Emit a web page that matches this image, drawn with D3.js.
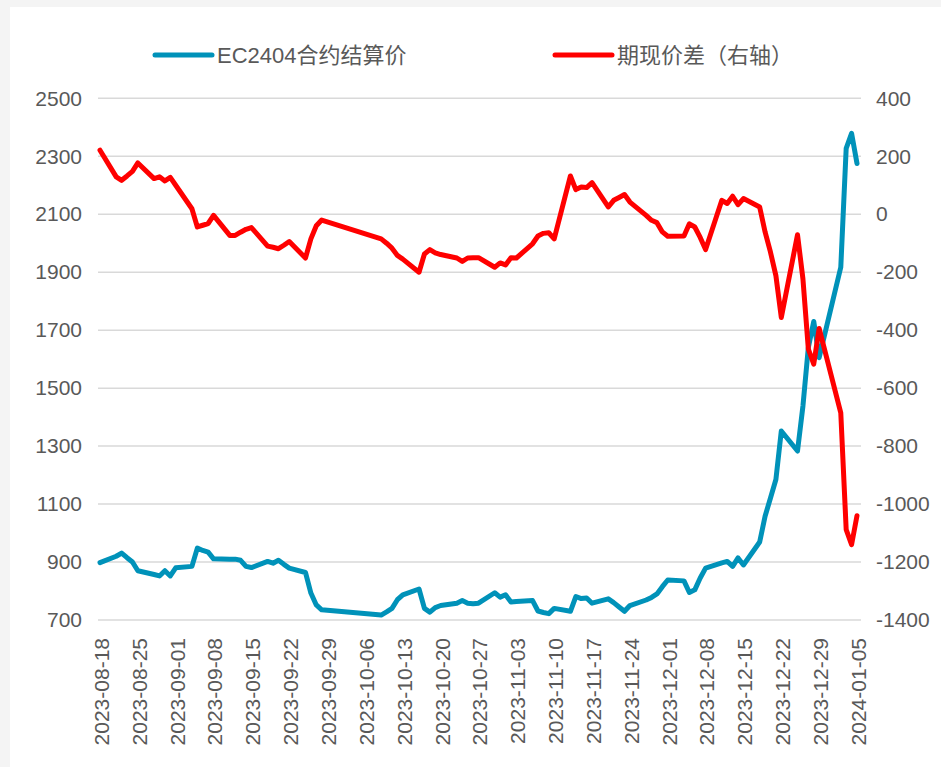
<!DOCTYPE html>
<html>
<head>
<meta charset="utf-8">
<script src="https://cdn.jsdelivr.net/npm/d3@7"></script>
<style>
  body { margin: 0; background: #f4f4f4; }
  svg { display: block; }
  text { font-family: "Liberation Sans", "Noto Sans CJK SC", sans-serif; fill: #595959; }
</style>
</head>
<body>
<div class="chart"></div>
<script>
// trading days
var dates = [
  "2023-08-18",
  "2023-08-21", "2023-08-22", "2023-08-23", "2023-08-24", "2023-08-25",
  "2023-08-28", "2023-08-29", "2023-08-30", "2023-08-31", "2023-09-01",
  "2023-09-04", "2023-09-05", "2023-09-06", "2023-09-07", "2023-09-08",
  "2023-09-11", "2023-09-12", "2023-09-13", "2023-09-14", "2023-09-15",
  "2023-09-18", "2023-09-19", "2023-09-20", "2023-09-21", "2023-09-22",
  "2023-09-25", "2023-09-26", "2023-09-27", "2023-09-28",
  "2023-10-09", "2023-10-10", "2023-10-11", "2023-10-12", "2023-10-13",
  "2023-10-16", "2023-10-17", "2023-10-18", "2023-10-19", "2023-10-20",
  "2023-10-23", "2023-10-24", "2023-10-25", "2023-10-26", "2023-10-27",
  "2023-10-30", "2023-10-31", "2023-11-01", "2023-11-02", "2023-11-03",
  "2023-11-06", "2023-11-07", "2023-11-08", "2023-11-09", "2023-11-10",
  "2023-11-13", "2023-11-14", "2023-11-15", "2023-11-16", "2023-11-17",
  "2023-11-20", "2023-11-21", "2023-11-22", "2023-11-23", "2023-11-24",
  "2023-11-27", "2023-11-28", "2023-11-29", "2023-11-30", "2023-12-01",
  "2023-12-04", "2023-12-05", "2023-12-06", "2023-12-07", "2023-12-08",
  "2023-12-11", "2023-12-12", "2023-12-13", "2023-12-14", "2023-12-15",
  "2023-12-18", "2023-12-19", "2023-12-20", "2023-12-21", "2023-12-22",
  "2023-12-25", "2023-12-26", "2023-12-27", "2023-12-28", "2023-12-29",
  "2024-01-02", "2024-01-03", "2024-01-04", "2024-01-05"
];

// EC2404 settlement price (left axis)
var price = [
  898,
  920, 931, 915, 900, 870,
  857, 852, 870, 852, 880,
  885, 948, 940, 934, 911,
  910, 910, 906, 885, 881,
  902, 896, 906, 892, 879,
  864, 793, 752, 735,
  717, 728, 740, 770, 787,
  807, 740, 727, 743, 750,
  758, 767, 758, 756, 758,
  794, 779, 787, 762, 764,
  767, 731, 726, 722, 740,
  730, 781, 774, 776, 758,
  773, 760, 745, 730, 750,
  769, 778, 790, 815, 838,
  835, 795, 804, 845, 879,
  897, 902, 885, 914, 890,
  969, 1058, 1121, 1185, 1352,
  1283, 1438, 1640, 1730, 1605,
  1917, 2327, 2379, 2275
];

// basis (right axis)
var basis = [
  221,
  129, 117, 132, 148, 177,
  123, 129, 115, 127, 100,
  19, -44, -38, -32, -4,
  -73, -73, -62, -52, -46,
  -110, -114, -119, -107, -94,
  -151, -85, -40, -20,
  -85, -100, -117, -142, -155,
  -200, -137, -122, -133, -139,
  -151, -163, -151, -150, -150,
  -183, -168, -175, -150, -151,
  -102, -75, -66, -64, -85,
  132, 85, 94, 92, 109,
  25, 48, 58, 68, 42,
  -4, -21, -29, -61, -76,
  -75, -33, -44, -80, -122,
  48, 37, 62, 33, 54,
  25, -61, -131, -212, -356,
  -71, -223, -465, -517, -394,
  -685, -1088, -1140, -1040
];

var leftTicks = [700, 900, 1100, 1300, 1500, 1700, 1900, 2100, 2300, 2500];
var rightTicks = [-1400, -1200, -1000, -800, -600, -400, -200, 0, 200, 400];
var seriesNames = ["EC2404合约结算价", "期现价差（右轴）"];
var colors = ["#0092b9", "#ff0000"];

var parse = d3.timeParse("%Y-%m-%d");
var fmt = d3.timeFormat("%Y-%m-%d");
var rows = dates.map(function(d, i) {
  return {date: parse(d), price: price[i], basis: basis[i]};
});

var W = 941, H = 767;
var plot = {left: 98, right: 861, top: 98.3, bottom: 620};

var svg = d3.select(".chart").append("svg")
  .attr("width", W)
  .attr("height", H);

// white panel
svg.append("rect")
  .attr("x", 10).attr("y", 7)
  .attr("width", W - 10).attr("height", H - 7)
  .attr("fill", "#fff");

var x = d3.scaleTime()
  .domain([parse(dates[0]), parse(dates[dates.length - 1])])
  .range([100, 857]);

var yL = d3.scaleLinear().domain([700, 2500]).range([plot.bottom, plot.top]);
var yR = d3.scaleLinear().domain([-1400, 400]).range([plot.bottom, plot.top]);

// plain numbers, hyphen minus
function num(d) { return String(d); }

// gridlines
svg.append("g")
  .selectAll("line")
  .data(leftTicks)
  .enter()
  .append("line")
  .attr("x1", plot.left)
  .attr("x2", plot.right)
  .attr("y1", function(d) { return yL(d); })
  .attr("y2", function(d) { return yL(d); })
  .attr("stroke", "#d9d9d9")
  .attr("stroke-width", 1.5);

// left axis
var gl = svg.append("g")
  .attr("transform", "translate(" + plot.left + ",0)")
  .call(d3.axisLeft(yL).tickValues(leftTicks).tickFormat(num).tickSize(0).tickPadding(16));
gl.select(".domain").remove();
gl.selectAll("text").style("font-size", "21px").attr("fill", "#595959");

// right axis
var gr = svg.append("g")
  .attr("transform", "translate(" + plot.right + ",0)")
  .call(d3.axisRight(yR).tickValues(rightTicks).tickFormat(num).tickSize(0).tickPadding(15));
gr.select(".domain").remove();
gr.selectAll("text").style("font-size", "21px").attr("fill", "#595959");

// x axis, weekly ticks on fridays
var xTicks = d3.timeFriday.range(parse("2023-08-18"), parse("2024-01-06"));
var gx = svg.append("g")
  .attr("transform", "translate(0," + plot.bottom + ")")
  .call(d3.axisBottom(x).tickValues(xTicks).tickFormat(fmt).tickSize(0));
gx.select(".domain").remove();
gx.selectAll("text")
  .attr("transform", "rotate(-90)")
  .attr("x", -18)
  .attr("y", 1)
  .attr("dy", "0.35em")
  .style("text-anchor", "end")
  .style("font-size", "21px")
  .attr("fill", "#595959");

// lines
var linePrice = d3.line()
  .x(function(d) { return x(d.date); })
  .y(function(d) { return yL(d.price); });
var lineBasis = d3.line()
  .x(function(d) { return x(d.date); })
  .y(function(d) { return yR(d.basis); });

svg.append("path")
  .datum(rows)
  .attr("d", linePrice)
  .attr("fill", "none")
  .attr("stroke", colors[0])
  .attr("stroke-width", 5)
  .attr("stroke-linejoin", "round")
  .attr("stroke-linecap", "round");

svg.append("path")
  .datum(rows)
  .attr("d", lineBasis)
  .attr("fill", "none")
  .attr("stroke", colors[1])
  .attr("stroke-width", 5)
  .attr("stroke-linejoin", "round")
  .attr("stroke-linecap", "round");

// legend
var legendX = [155, 555];
var legend = svg.append("g");
seriesNames.forEach(function(name, i) {
  legend.append("line")
    .attr("x1", legendX[i]).attr("x2", legendX[i] + 57)
    .attr("y1", 55).attr("y2", 55)
    .attr("stroke", colors[i])
    .attr("stroke-width", 5)
    .attr("stroke-linecap", "round");
  legend.append("text")
    .attr("x", legendX[i] + 62)
    .attr("y", 55)
    .attr("dy", "0.35em")
    .style("font-size", "22px")
    .text(name);
});
</script>
</body>
</html>
